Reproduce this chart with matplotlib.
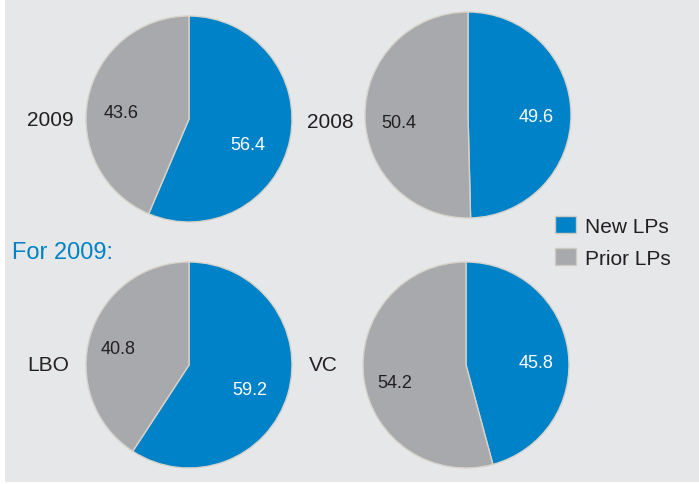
import matplotlib.pyplot as plt
from matplotlib.patches import Rectangle

plt.rcParams['font.family'] = ['Liberation Sans', 'DejaVu Sans']

# share of capital from new vs prior LPs (%)
pie_names = ['2009', '2008', 'LBO', 'VC']
new_lps = [56.4, 49.6, 59.2, 45.8]
prior_lps = [43.6, 50.4, 40.8, 54.2]
series_labels = ['New LPs', 'Prior LPs']

blue = '#0082c8'
grey = '#a7a9ac'
dark = '#231f20'
W, H = 699, 485

# pie centres and label spots, in image pixels (y from top)
centres = [(189, 120), (468, 116), (189, 366), (466, 366)]
radius = 103
name_pos = [(50, 120), (330, 122), (48, 366), (323, 366)]
new_pos = [(248, 146), (536, 117), (250, 391), (536, 364)]
prior_pos = [(121, 113), (399, 124), (118, 349), (395, 384)]

fig = plt.figure(figsize=(W / 100, H / 100), dpi=100, facecolor='white')
ax = fig.add_axes([0, 0, 1, 1])

ax.add_patch(Rectangle((5, H - 483), W - 5, 483, facecolor='#e6e7e8',
                       edgecolor='none', zorder=0))

wedges = None
for i in range(4):
    cx, cy = centres[i]
    w, _ = ax.pie([new_lps[i], prior_lps[i]], colors=[blue, grey],
                  startangle=90, counterclock=False,
                  center=(cx, H - cy), radius=radius, frame=True,
                  wedgeprops=dict(edgecolor='#d8d3ca', linewidth=1))
    if wedges is None:
        wedges = w
    ax.text(name_pos[i][0], H - name_pos[i][1], pie_names[i], fontsize=15,
            color=dark, ha='center', va='center')
    ax.text(new_pos[i][0], H - new_pos[i][1], f'{new_lps[i]:.1f}', fontsize=13,
            color='white', ha='center', va='center')
    ax.text(prior_pos[i][0], H - prior_pos[i][1], f'{prior_lps[i]:.1f}', fontsize=13,
            color=dark, ha='center', va='center')

ax.set_xlim(0, W)
ax.set_ylim(0, H)
ax.set_aspect('equal')
ax.axis('off')

ax.text(12, H - 253, 'For 2009:', fontsize=17, color=blue, ha='left', va='center')

leg = ax.legend(wedges, series_labels, loc='upper left',
                bbox_to_anchor=(545 / W, 1 - 207 / H), frameon=False,
                fontsize=15, handlelength=1.0, handleheight=0.85,
                handletextpad=0.4, labelspacing=0.6, borderpad=0,
                labelcolor=dark)
for h in leg.legend_handles:
    h.set_edgecolor('#cfcac0')

fig.savefig('out.png', dpi=100, facecolor='white')
